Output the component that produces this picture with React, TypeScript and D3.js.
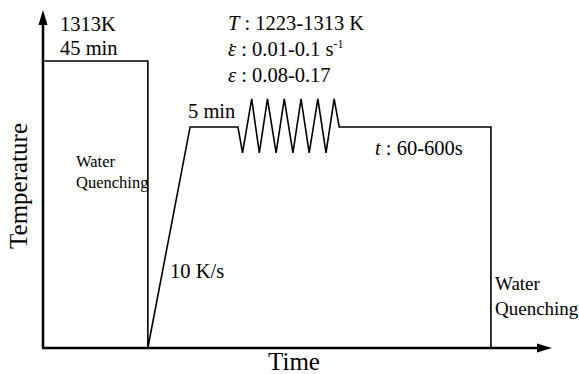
import React from "react";
import * as d3 from "d3";

// Schematic thermal-mechanical profile (arbitrary units: time 0-100, temperature 0-100)
const profileTime = [0, 20.6, 20.6, 28.9, 38.3, 39.2, 41.0, 42.5, 44.1, 45.8, 47.4, 49.1, 50.7, 52.3, 54.0, 55.6, 57.2, 58.2, 88.0, 88.0];
const profileTemp = [84.9, 84.9, 0, 65.4, 65.4, 57.7, 73.7, 57.7, 73.7, 57.7, 73.7, 57.7, 73.7, 57.7, 73.7, 57.7, 73.7, 65.4, 65.4, 0];
const axisMax = [100, 100];

const W = 579;
const H = 374;
const FONT = "Liberation Serif";

export default function App() {
  const x = d3.scaleLinear().domain([0, axisMax[0]]).range([43, 552]);
  const y = d3.scaleLinear().domain([0, axisMax[1]]).range([348, 10]);
  const pts: [number, number][] = profileTime.map((t, i) => [x(t), y(profileTemp[i])]);
  const line = d3.line<[number, number]>().x((d) => d[0]).y((d) => d[1]);
  const x0 = x(0), y0 = y(0), xEnd = x(axisMax[0]), yEnd = y(axisMax[1]);
  const fs = 20.5;
  const ts = { fontFamily: FONT };
  return (
    <svg width={W} height={H} style={{ position: "absolute", left: 0, top: 0, background: "#fff" }}>
      {/* axes */}
      <line x1={x0} y1={y0} x2={x0} y2={yEnd + 12} stroke="#000" strokeWidth={2.5} />
      <line x1={x0 - 1} y1={y0} x2={xEnd - 12} y2={y0} stroke="#000" strokeWidth={2.5} />
      <path d={`M${x0},${yEnd} L${x0 - 4.5},${yEnd + 15} L${x0 + 4.5},${yEnd + 15} Z`} fill="#000" />
      <path d={`M${xEnd},${y0} L${xEnd - 15},${y0 - 4.5} L${xEnd - 15},${y0 + 4.5} Z`} fill="#000" />
      {/* profile */}
      <path d={line(pts) || ""} fill="none" stroke="#000" strokeWidth={1.6} strokeLinejoin="miter" />
      {/* labels */}
      <text style={ts} x={60} y={31} fontSize={fs}>1313K</text>
      <text style={ts} x={60} y={55} fontSize={fs}>45 min</text>
      <text style={ts} x={76} y={167} fontSize={16.5}>Water</text>
      <text style={ts} x={76} y={188} fontSize={16.5}>Quenching</text>
      <text style={ts} x={170} y={278} fontSize={fs}>10 K/s</text>
      <text style={ts} x={188} y={118} fontSize={fs}>5 min</text>
      <text style={ts} x={228} y={30} fontSize={fs}>
        <tspan fontStyle="italic">T</tspan> : 1223-1313 K
      </text>
      <text style={ts} x={228} y={56} fontSize={fs}>
        <tspan fontStyle="italic">{"\u03B5"}</tspan>
        <tspan dx={-8} dy={2}>{"\u02D9"}</tspan>
        <tspan dx={1.2} dy={-2}> : 0.01-0.1 s</tspan>
        <tspan fontSize={12} dy={-8}>-1</tspan>
      </text>
      <text style={ts} x={228} y={82} fontSize={fs}>
        <tspan fontStyle="italic">{"\u03B5"}</tspan> : 0.08-0.17
      </text>
      <text style={ts} x={375} y={155} fontSize={fs}>
        <tspan fontStyle="italic">t</tspan> : 60-600s
      </text>
      <text style={ts} x={495} y={290} fontSize={19}>Water</text>
      <text style={ts} x={495} y={315} fontSize={19}>Quenching</text>
      <text style={ts} x={294} y={370} fontSize={25} textAnchor="middle">Time</text>
      <text style={ts} transform="translate(27,186) rotate(-90)" fontSize={25} textAnchor="middle">Temperature</text>
    </svg>
  );
}
